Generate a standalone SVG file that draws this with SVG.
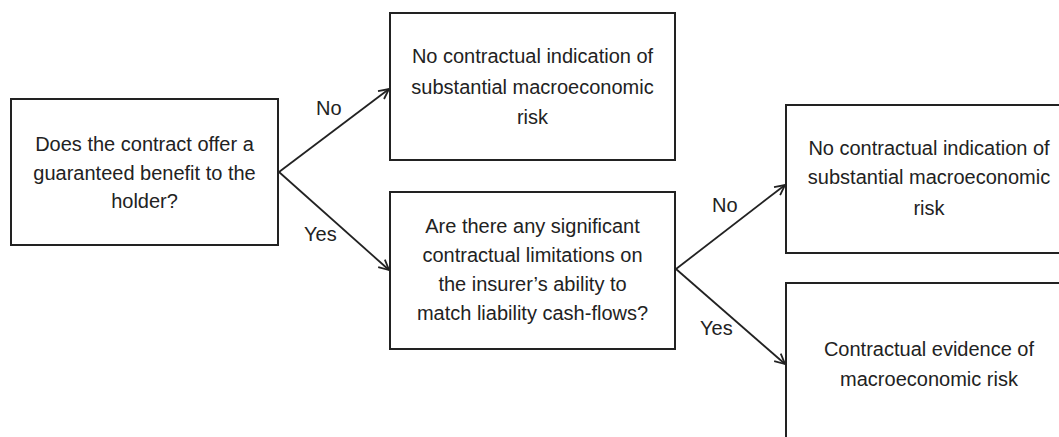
<svg xmlns="http://www.w3.org/2000/svg" width="1059" height="437" viewBox="0 0 1059 437">
<style>
.box{fill:#fff;stroke:#222;stroke-width:2}
.t{font-family:"Liberation Sans",Arial,sans-serif;font-size:20px;fill:#222;text-anchor:middle}
.lbl{font-family:"Liberation Sans",Arial,sans-serif;font-size:20px;fill:#222}
.conn{stroke:#222;stroke-width:1.8;fill:none;marker-end:url(#arr)}
</style>
<defs>
<marker id="arr" viewBox="0 0 12 12" refX="11" refY="6" markerWidth="12" markerHeight="12" markerUnits="userSpaceOnUse" orient="auto">
<path d="M1,1 L11,6 L1,11" fill="none" stroke="#222" stroke-width="1.8"/>
</marker>
</defs>
<rect width="1059" height="437" fill="#fff"/>
<g id="connectors">
<line class="conn" x1="279" y1="172" x2="389" y2="89"/>
<line class="conn" x1="279" y1="172" x2="389" y2="270"/>
<line class="conn" x1="676" y1="269" x2="785" y2="185"/>
<line class="conn" x1="676" y1="269" x2="785" y2="364"/>
<text class="lbl" x="316" y="115">No</text>
<text class="lbl" x="304" y="241">Yes</text>
<text class="lbl" x="712" y="212">No</text>
<text class="lbl" x="700" y="335">Yes</text>
</g>
<g id="q1">
<rect class="box" x="11" y="99" width="267" height="146"/>
<text class="t" x="144.5" y="151">Does the contract offer a</text>
<text class="t" x="144.5" y="180">guaranteed benefit to the</text>
<text class="t" x="144.5" y="208">holder?</text>
</g>
<g id="r1">
<rect class="box" x="390" y="13" width="285" height="147"/>
<text class="t" x="532.5" y="63">No contractual indication of</text>
<text class="t" x="532.5" y="94">substantial macroeconomic</text>
<text class="t" x="532.5" y="124">risk</text>
</g>
<g id="q2">
<rect class="box" x="390" y="192" width="285" height="157"/>
<text class="t" x="532.5" y="233">Are there any significant</text>
<text class="t" x="532.5" y="262">contractual limitations on</text>
<text class="t" x="532.5" y="291">the insurer’s ability to</text>
<text class="t" x="532.5" y="320">match liability cash-flows?</text>
</g>
<g id="r2">
<rect class="box" x="786" y="105" width="286" height="148"/>
<text class="t" x="929" y="155">No contractual indication of</text>
<text class="t" x="929" y="184">substantial macroeconomic</text>
<text class="t" x="929" y="215">risk</text>
</g>
<g id="r3">
<rect class="box" x="786" y="283" width="286" height="170"/>
<text class="t" x="929" y="356">Contractual evidence of</text>
<text class="t" x="929" y="386">macroeconomic risk</text>
</g>
</svg>
